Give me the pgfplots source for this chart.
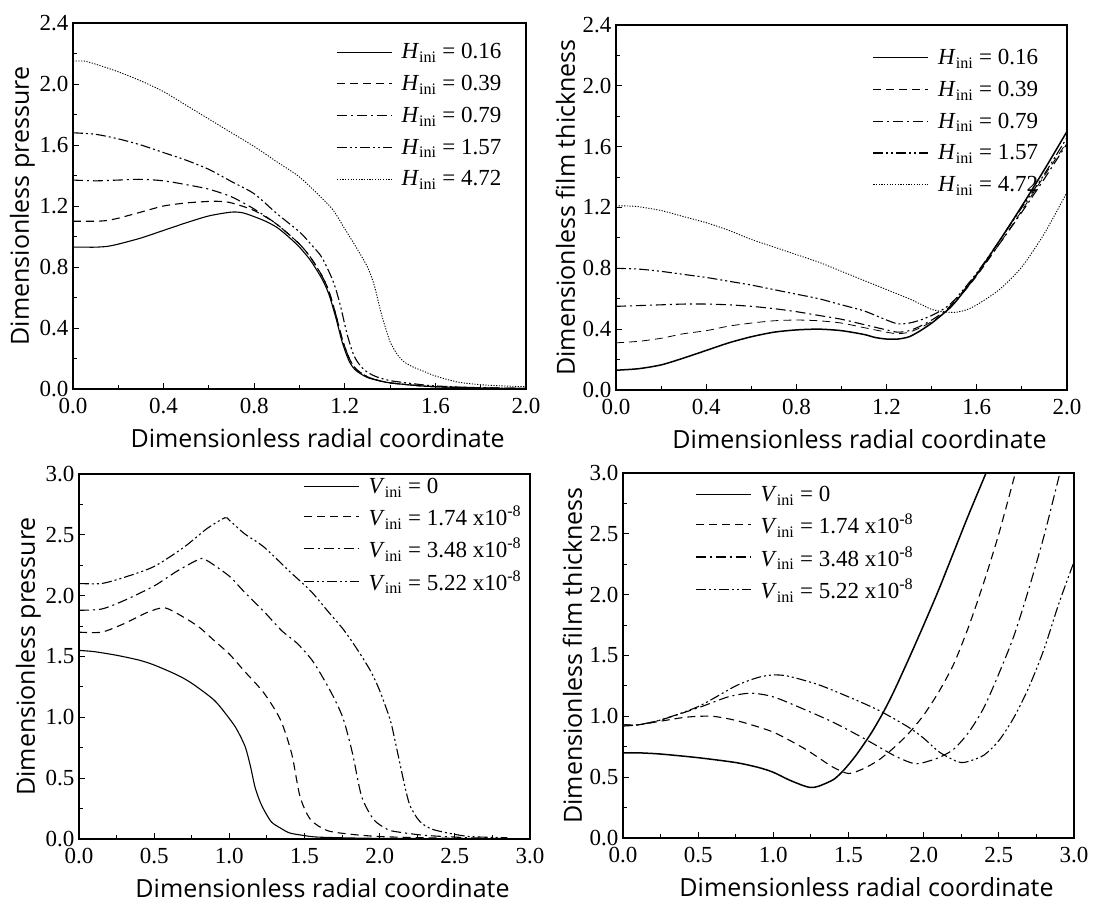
\documentclass[border=0pt]{standalone}
\usepackage{fontspec}
\setmainfont{Liberation Serif}
\newfontfamily\labelfont{Open Sans}
\usepackage{pgfplots}
\pgfplotsset{compat=1.18}

\tikzset{
 s1/.style={black, line width=1.1pt},
 s1b/.style={black, line width=1.5pt},
 s2/.style={black, line width=1.1pt, dash pattern=on 8pt off 5pt},
 s3/.style={black, line width=1.1pt, dash pattern=on 10pt off 4pt on 2pt off 4pt},
 s4/.style={black, line width=1.1pt, dash pattern=on 10pt off 3pt on 2pt off 3pt on 2pt off 3pt},
 s5/.style={black, line width=0.9pt, dash pattern=on 1.2pt off 1.5pt},
}

\pgfplotsset{
 myaxis/.style={
  scale only axis,
  width=451pt, height=365pt,
  axis line style={black, line width=1.1pt},
  tick align=inside, tick pos=left,
  major tick length=6pt, minor tick length=3.5pt,
  every tick/.style={black, line width=0.9pt},
  minor x tick num=1, minor y tick num=1,
  /pgf/number format/assume math mode=true,
  /pgf/number format/.cd, fixed, fixed zerofill, precision=1, /pgfplots/.cd,
  ticklabel style={font=\fontsize{23}{26}\selectfont},
  xticklabel style={yshift=-6pt},
  yticklabel style={xshift=-1pt},
  xlabel style={font=\labelfont\fontsize{25}{29}\selectfont, at={(axis description cs:0.54,-0.16)}, anchor=base},
  ylabel style={font=\labelfont\fontsize{25}{29}\selectfont, at={(axis description cs:-0.112,0.5)}, anchor=center},
  xlabel={Dimensionless radial coordinate},
  legend style={draw=none, fill=none, font=\fontsize{23}{26}\selectfont, row sep=11pt, inner sep=2pt},
  legend cell align=left,
  legend image code/.code={\draw[##1] (0pt,0pt) -- (55pt,0pt); \path (62pt,0pt);},
  every axis plot/.append style={smooth, tension=0.45},
  clip=true,
 }
}

\begin{document}
\begin{tikzpicture}
\useasboundingbox (0,0) rectangle (1096pt,907pt);

% ---------------- Top-left: pressure, H_ini
\begin{axis}[myaxis, at={(73pt,518pt)}, anchor=south west, height=366pt, width=453pt,
  xmin=0, xmax=2.0, ymin=0, ymax=2.4,
  xtick={0,0.4,...,2.0}, ytick={0,0.4,...,2.4},
  ylabel={Dimensionless pressure},
  legend style={at={(axis description cs:0.955,0.955)}, anchor=north east}]
\addplot[s1] coordinates {(0,0.93)(0.05,0.93)(0.1,0.93)(0.15,0.935)(0.2,0.95)(0.3,0.99)(0.4,1.04)(0.5,1.09)(0.6,1.135)(0.7,1.16)(0.75,1.155)(0.8,1.13)(0.85,1.10)(0.9,1.06)(0.95,1.00)(1.0,0.93)(1.05,0.84)(1.1,0.72)(1.13,0.62)(1.16,0.47)(1.19,0.30)(1.22,0.18)(1.25,0.12)(1.3,0.075)(1.35,0.055)(1.4,0.04)(1.5,0.025)(1.6,0.015)(1.8,0.006)(2.0,0.003)};
\addlegendentry{\textit{H}\textsubscript{ini} = 0.16}
\addplot[s2] coordinates {(0,1.10)(0.1,1.10)(0.15,1.105)(0.2,1.12)(0.3,1.16)(0.4,1.20)(0.5,1.22)(0.6,1.23)(0.65,1.23)(0.7,1.22)(0.8,1.17)(0.9,1.08)(1.0,0.95)(1.05,0.86)(1.1,0.74)(1.13,0.64)(1.16,0.49)(1.19,0.32)(1.22,0.20)(1.25,0.13)(1.3,0.08)(1.35,0.055)(1.4,0.04)(1.5,0.025)(1.6,0.015)(1.8,0.006)(2.0,0.003)};
\addlegendentry{\textit{H}\textsubscript{ini} = 0.39}
\addplot[s3] coordinates {(0,1.37)(0.1,1.365)(0.2,1.37)(0.3,1.375)(0.4,1.365)(0.5,1.34)(0.6,1.31)(0.7,1.26)(0.8,1.18)(0.9,1.08)(1.0,0.95)(1.05,0.86)(1.1,0.74)(1.13,0.64)(1.16,0.49)(1.19,0.32)(1.22,0.20)(1.25,0.13)(1.3,0.08)(1.35,0.055)(1.4,0.04)(1.5,0.025)(1.6,0.015)(2.0,0.003)};
\addlegendentry{\textit{H}\textsubscript{ini} = 0.79}
\addplot[s4] coordinates {(0,1.68)(0.1,1.67)(0.2,1.64)(0.3,1.60)(0.4,1.55)(0.5,1.50)(0.6,1.44)(0.7,1.36)(0.8,1.28)(0.9,1.15)(1.0,1.03)(1.05,0.95)(1.1,0.86)(1.15,0.70)(1.18,0.55)(1.21,0.36)(1.24,0.22)(1.27,0.15)(1.3,0.11)(1.34,0.08)(1.4,0.055)(1.5,0.035)(1.6,0.02)(1.8,0.008)(2.0,0.004)};
\addlegendentry{\textit{H}\textsubscript{ini} = 1.57}
\addplot[s5] coordinates {(0,2.15)(0.05,2.15)(0.1,2.13)(0.2,2.08)(0.3,2.02)(0.4,1.95)(0.5,1.86)(0.6,1.77)(0.7,1.68)(0.8,1.59)(0.9,1.49)(1.0,1.39)(1.1,1.25)(1.15,1.17)(1.2,1.05)(1.25,0.93)(1.3,0.80)(1.33,0.68)(1.36,0.50)(1.38,0.40)(1.4,0.31)(1.43,0.23)(1.46,0.18)(1.5,0.145)(1.55,0.115)(1.6,0.085)(1.7,0.045)(1.8,0.028)(1.9,0.02)(2.0,0.015)};
\addlegendentry{\textit{H}\textsubscript{ini} = 4.72}
\end{axis}

% ---------------- Top-right: film thickness, H_ini
\begin{axis}[myaxis, at={(616pt,517pt)}, anchor=south west,
  xmin=0, xmax=2.0, ymin=0, ymax=2.4,
  xtick={0,0.4,...,2.0}, ytick={0,0.4,...,2.4},
  ylabel={Dimensionless film thickness},
  legend style={at={(axis description cs:0.945,0.945)}, anchor=north east}]
\addplot[s1b] coordinates {(0,0.13)(0.1,0.14)(0.2,0.165)(0.3,0.21)(0.4,0.26)(0.5,0.31)(0.6,0.35)(0.7,0.38)(0.8,0.395)(0.9,0.40)(1.0,0.39)(1.1,0.365)(1.15,0.345)(1.2,0.335)(1.25,0.335)(1.3,0.35)(1.35,0.39)(1.4,0.44)(1.45,0.50)(1.5,0.57)(1.6,0.76)(1.7,0.98)(1.8,1.21)(1.9,1.45)(2.0,1.70)};
\addlegendentry{\textit{H}\textsubscript{ini} = 0.16}
\addplot[s2, line width=0.8pt] coordinates {(0,0.31)(0.1,0.32)(0.2,0.34)(0.3,0.37)(0.4,0.39)(0.5,0.42)(0.6,0.44)(0.7,0.455)(0.8,0.46)(0.9,0.455)(1.0,0.44)(1.1,0.41)(1.2,0.38)(1.25,0.37)(1.3,0.38)(1.35,0.41)(1.4,0.45)(1.45,0.50)(1.5,0.57)(1.6,0.75)(1.7,0.96)(1.8,1.18)(1.9,1.41)(2.0,1.63)};
\addlegendentry{\textit{H}\textsubscript{ini} = 0.39}
\addplot[s3] coordinates {(0,0.55)(0.1,0.555)(0.2,0.56)(0.3,0.565)(0.4,0.565)(0.5,0.56)(0.6,0.55)(0.7,0.535)(0.8,0.515)(0.9,0.49)(1.0,0.465)(1.1,0.43)(1.2,0.395)(1.25,0.38)(1.3,0.39)(1.35,0.42)(1.4,0.46)(1.45,0.51)(1.5,0.58)(1.6,0.76)(1.7,0.96)(1.8,1.17)(1.9,1.39)(2.0,1.62)};
\addlegendentry{\textit{H}\textsubscript{ini} = 0.79}
\addplot[s4] coordinates {(0,0.80)(0.1,0.795)(0.2,0.78)(0.3,0.76)(0.4,0.74)(0.5,0.715)(0.6,0.69)(0.7,0.66)(0.8,0.63)(0.9,0.60)(1.0,0.56)(1.1,0.52)(1.2,0.46)(1.25,0.435)(1.3,0.44)(1.35,0.46)(1.4,0.49)(1.45,0.53)(1.5,0.59)(1.6,0.77)(1.7,0.98)(1.8,1.20)(1.9,1.42)(2.0,1.66)};
\addlegendentry{\textit{H}\textsubscript{ini} = 1.57}
\addplot[s5] coordinates {(0,1.21)(0.05,1.21)(0.1,1.205)(0.2,1.18)(0.3,1.14)(0.4,1.10)(0.5,1.05)(0.6,0.99)(0.7,0.94)(0.8,0.89)(0.9,0.84)(1.0,0.78)(1.1,0.72)(1.2,0.66)(1.3,0.60)(1.35,0.565)(1.4,0.53)(1.45,0.515)(1.5,0.51)(1.55,0.525)(1.6,0.56)(1.7,0.66)(1.8,0.81)(1.9,1.03)(2.0,1.30)};
\addlegendentry{\textit{H}\textsubscript{ini} = 4.72}
\end{axis}

% ---------------- Bottom-left: pressure, V_ini
\begin{axis}[myaxis, at={(79pt,68pt)}, anchor=south west,
  xmin=0, xmax=3.0, ymin=0, ymax=3.0,
  xtick={0,0.5,...,3.0}, ytick={0,0.5,...,3.0},
  ylabel={Dimensionless pressure},
  legend style={at={(axis description cs:0.99,1.0)}, anchor=north east, row sep=7pt}]
\addplot[s1] coordinates {(0,1.55)(0.1,1.54)(0.25,1.51)(0.4,1.47)(0.5,1.43)(0.65,1.35)(0.75,1.28)(0.9,1.14)(1.0,0.99)(1.05,0.90)(1.105,0.76)(1.14,0.60)(1.17,0.43)(1.2,0.32)(1.23,0.24)(1.28,0.14)(1.34,0.09)(1.4,0.05)(1.49,0.03)(1.6,0.015)(2.0,0.005)(2.8,0.002)};
\addlegendentry{\textit{V}\textsubscript{ini} = 0}
\addplot[s2] coordinates {(0,1.70)(0.15,1.70)(0.3,1.77)(0.45,1.86)(0.57,1.90)(0.7,1.82)(0.8,1.74)(0.9,1.63)(1.0,1.52)(1.1,1.38)(1.23,1.20)(1.34,0.98)(1.415,0.70)(1.47,0.35)(1.54,0.16)(1.65,0.07)(1.8,0.04)(2.0,0.02)(2.3,0.01)(2.6,0.005)};
\addlegendentry{\textit{V}\textsubscript{ini} = 1.74 x10\textsuperscript{-8}}
\addplot[s3] coordinates {(0,1.88)(0.15,1.89)(0.3,1.96)(0.5,2.08)(0.65,2.20)(0.8,2.30)(0.85,2.29)(1.0,2.16)(1.1,2.03)(1.23,1.87)(1.35,1.71)(1.45,1.61)(1.55,1.47)(1.63,1.31)(1.7,1.15)(1.76,0.98)(1.82,0.70)(1.88,0.35)(1.96,0.16)(2.05,0.08)(2.11,0.06)(2.3,0.03)(2.6,0.01)(2.8,0.005)};
\addlegendentry{\textit{V}\textsubscript{ini} = 3.48 x10\textsuperscript{-8}}
\addplot[s4] coordinates {(0,2.10)(0.15,2.10)(0.3,2.15)(0.5,2.24)(0.7,2.40)(0.85,2.55)(0.97,2.64)(1.0,2.62)(1.1,2.51)(1.23,2.40)(1.4,2.20)(1.54,2.04)(1.65,1.88)(1.76,1.72)(1.85,1.56)(1.94,1.38)(2.0,1.22)(2.07,0.98)(2.1,0.82)(2.14,0.59)(2.17,0.42)(2.2,0.28)(2.25,0.17)(2.29,0.12)(2.35,0.08)(2.45,0.05)(2.6,0.02)(2.85,0.01)};
\addlegendentry{\textit{V}\textsubscript{ini} = 5.22 x10\textsuperscript{-8}}
\end{axis}

% ---------------- Bottom-right: film thickness, V_ini
\begin{axis}[myaxis, at={(623pt,69pt)}, anchor=south west,
  xmin=0, xmax=3.0, ymin=0, ymax=3.0,
  xtick={0,0.5,...,3.0}, ytick={0,0.5,...,3.0},
  ylabel={Dimensionless film thickness},
  legend style={at={(axis description cs:0.155,0.975)}, anchor=north west, row sep=7pt}]
\addplot[s1b] coordinates {(0,0.70)(0.1,0.70)(0.25,0.69)(0.5,0.66)(0.75,0.62)(0.9,0.58)(1.0,0.54)(1.1,0.48)(1.2,0.43)(1.25,0.415)(1.3,0.425)(1.4,0.48)(1.47,0.56)(1.55,0.68)(1.65,0.86)(1.73,1.03)(1.8,1.20)(1.9,1.47)(2.0,1.75)(2.1,2.04)(2.2,2.35)(2.3,2.66)(2.415,3.0)};
\addlegendentry{\textit{V}\textsubscript{ini} = 0}
\addplot[s2] coordinates {(0,0.93)(0.1,0.93)(0.25,0.96)(0.4,0.99)(0.5,1.00)(0.6,1.00)(0.7,0.98)(0.8,0.95)(1.0,0.87)(1.2,0.74)(1.3,0.66)(1.4,0.58)(1.5,0.53)(1.6,0.57)(1.7,0.64)(1.8,0.74)(1.9,0.86)(2.0,1.01)(2.1,1.20)(2.2,1.43)(2.3,1.74)(2.4,2.10)(2.5,2.50)(2.61,3.0)};
\addlegendentry{\textit{V}\textsubscript{ini} = 1.74 x10\textsuperscript{-8}}
\addplot[s3] coordinates {(0,0.93)(0.1,0.93)(0.25,0.97)(0.5,1.07)(0.7,1.16)(0.85,1.19)(1.0,1.16)(1.2,1.06)(1.4,0.95)(1.6,0.82)(1.8,0.68)(1.9,0.625)(1.95,0.61)(2.0,0.62)(2.1,0.66)(2.2,0.73)(2.3,0.87)(2.4,1.07)(2.5,1.35)(2.6,1.66)(2.7,2.05)(2.8,2.48)(2.9,2.97)(2.905,3.0)};
\addlegendentry{\textit{V}\textsubscript{ini} = 3.48 x10\textsuperscript{-8}}
\addplot[s4] coordinates {(0,0.92)(0.1,0.93)(0.25,0.97)(0.5,1.08)(0.75,1.25)(0.9,1.32)(1.0,1.34)(1.1,1.33)(1.3,1.26)(1.5,1.16)(1.7,1.05)(1.9,0.91)(2.0,0.82)(2.1,0.71)(2.2,0.64)(2.25,0.62)(2.3,0.63)(2.4,0.68)(2.5,0.80)(2.6,0.99)(2.7,1.24)(2.8,1.55)(2.9,1.93)(3.0,2.27)};
\addlegendentry{\textit{V}\textsubscript{ini} = 5.22 x10\textsuperscript{-8}}
\end{axis}
\end{tikzpicture}
\end{document}
